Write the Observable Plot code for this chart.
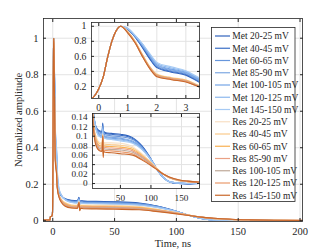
<!DOCTYPE html>
<html><head><meta charset="utf-8">
<script src="https://cdn.jsdelivr.net/npm/d3@7"></script>
<script src="https://cdn.jsdelivr.net/npm/@observablehq/plot@0.6"></script>
<style>
body{margin:0;background:#fff}
#c{position:relative;width:333px;height:250px;font-family:'Liberation Serif','DejaVu Serif',serif;overflow:hidden}
#c svg{position:absolute;left:0;top:0}
#c svg text{font-family:'Liberation Serif','DejaVu Serif',serif}
</style></head><body><div id="c"></div>
<script>
const seriesNames = ["Met 20-25 mV","Met 40-45 mV","Met 60-65 mV","Met 85-90 mV","Met 100-105 mV","Met 120-125 mV","Met 145-150 mV",
  "Res 20-25 mV","Res 40-45 mV","Res 60-65 mV","Res 85-90 mV","Res 100-105 mV","Res 120-125 mV","Res 145-150 mV"];
const seriesColors = ["#2f62bd","#3a6ec6","#6796dc","#7ea8e2","#75a4e6","#8cb8ee","#a6caf4",
  "#f8e0c4","#fbca8a","#f8b052","#eaa084","#bea898","#e99a6c","#c9672a"];

// common rise (t in ns)
const riseTime = [-7.5,-2.3,-2,-1,-0.5,-0.25,-0.1,0,0.15,0.3,0.45,0.6,0.75];
const riseValues = [0.004,0.004,0.02,0.025,0.03,0.04,0.1,0.17,0.32,0.58,0.8,0.94,1.0];
// decay part
const decayTime = [1.0,1.25,1.5,1.75,2.0,2.5,3.0,3.5,4,5,7,10,15,20,21.2,21.8,22.5,25,35,50,70,85,100,110,120,130,145,160,180,202];
const met20  = [0.96,0.86,0.72,0.57,0.45,0.39,0.35,0.25,0.19,0.158,0.135,0.12,0.112,0.11,0.128,0.096,0.11,0.108,0.106,0.104,0.097,0.08,0.052,0.03,0.013,0.004,0.000,-0.001,0.000,0.000];
const met40  = [0.96,0.86,0.73,0.58,0.46,0.40,0.36,0.26,0.195,0.16,0.136,0.119,0.11,0.108,0.126,0.094,0.108,0.106,0.104,0.102,0.095,0.079,0.052,0.03,0.013,0.004,0.000,-0.001,0.000,0.000];
const met60  = [0.965,0.87,0.74,0.60,0.47,0.41,0.37,0.27,0.2,0.162,0.137,0.118,0.107,0.105,0.122,0.092,0.105,0.103,0.101,0.099,0.093,0.077,0.051,0.03,0.013,0.004,0.001,0.000,0.000,0.000];
const met85  = [0.965,0.87,0.75,0.61,0.48,0.42,0.38,0.28,0.21,0.165,0.138,0.117,0.105,0.102,0.12,0.09,0.102,0.1,0.098,0.096,0.09,0.076,0.051,0.03,0.013,0.004,0.001,0.000,0.000,0.000];
const met100 = [0.97,0.875,0.76,0.62,0.49,0.43,0.39,0.29,0.22,0.17,0.139,0.116,0.103,0.1,0.118,0.088,0.1,0.098,0.096,0.094,0.088,0.075,0.05,0.03,0.013,0.004,0.001,0.000,0.000,0.000];
const met120 = [0.97,0.88,0.765,0.63,0.505,0.445,0.40,0.30,0.23,0.175,0.14,0.116,0.101,0.098,0.116,0.086,0.098,0.096,0.094,0.092,0.086,0.073,0.05,0.03,0.013,0.004,0.001,0.000,0.000,0.000];
const met145 = [0.97,0.88,0.77,0.64,0.52,0.46,0.41,0.31,0.24,0.18,0.14,0.115,0.1,0.097,0.115,0.085,0.097,0.095,0.093,0.09,0.085,0.072,0.05,0.03,0.013,0.004,0.001,0.000,0.000,0.000];
const res20  = [0.93,0.80,0.63,0.47,0.37,0.32,0.29,0.21,0.175,0.145,0.118,0.1,0.088,0.086,0.105,0.075,0.087,0.086,0.086,0.085,0.078,0.063,0.045,0.032,0.02,0.012,0.006,0.004,0.002,0.001];
const res40  = [0.93,0.80,0.625,0.465,0.36,0.315,0.285,0.205,0.172,0.142,0.115,0.097,0.085,0.083,0.103,0.072,0.084,0.083,0.082,0.081,0.075,0.061,0.044,0.031,0.02,0.012,0.006,0.004,0.002,0.001];
const res60  = [0.925,0.795,0.62,0.46,0.355,0.31,0.28,0.2,0.17,0.14,0.112,0.093,0.081,0.079,0.102,0.068,0.08,0.079,0.078,0.077,0.072,0.059,0.043,0.031,0.02,0.013,0.007,0.004,0.002,0.001];
const res85  = [0.92,0.79,0.615,0.455,0.35,0.305,0.275,0.2,0.168,0.138,0.109,0.09,0.078,0.076,0.101,0.065,0.077,0.076,0.075,0.074,0.069,0.057,0.042,0.03,0.02,0.013,0.007,0.004,0.002,0.001];
const res100 = [0.92,0.785,0.61,0.45,0.345,0.30,0.27,0.195,0.165,0.135,0.106,0.087,0.075,0.073,0.1,0.062,0.074,0.073,0.072,0.071,0.066,0.055,0.041,0.03,0.02,0.013,0.007,0.005,0.003,0.001];
const res120 = [0.915,0.78,0.605,0.445,0.34,0.295,0.265,0.19,0.162,0.132,0.103,0.084,0.072,0.07,0.1,0.058,0.071,0.07,0.069,0.067,0.063,0.052,0.04,0.03,0.02,0.014,0.008,0.005,0.003,0.002];
const res145 = [0.91,0.78,0.60,0.44,0.33,0.29,0.26,0.19,0.16,0.13,0.1,0.08,0.07,0.068,0.1,0.055,0.068,0.066,0.065,0.063,0.06,0.05,0.038,0.029,0.02,0.014,0.008,0.005,0.003,0.002];
const decaySeries = [met20,met40,met60,met85,met100,met120,met145,res20,res40,res60,res85,res100,res120,res145];

const mainXTicks = [0,50,100,150,200];
const mainYTicks = [0,0.2,0.4,0.6,0.8,1];
const in1XTicks = [0,1,2,3];
const in1YTicks = [0.2,0.4,0.6,0.8,1];
const in2XTicks = [50,100,150];
const in2YTicks = [0,0.02,0.04,0.06,0.08,0.1,0.12,0.14];

const rows = [];
seriesNames.forEach((s, i) => {
  riseTime.forEach((t, j) => rows.push({s, t, v: riseValues[j]}));
  decayTime.forEach((t, j) => rows.push({s, t, v: decaySeries[i][j]}));
});

const FONT = "'Liberation Serif','DejaVu Serif',serif";
const INK = "#262626";
const GRID = "#e3e3e3";
const fmt = d => String(d);

function axes(xt, yt, xlabel, ylabel, extra = {}) {
  return [
    Plot.axisX(xt, {anchor: "bottom", tickSize: -3, tickPadding: 9, tickFormat: fmt, stroke: INK, fill: INK,
      label: xlabel, labelAnchor: "center", labelArrow: "none", labelOffset: extra.xlo ?? 24}),
    Plot.axisX(xt, {anchor: "top", tickSize: -3, tickFormat: () => "", stroke: INK, label: null}),
    Plot.axisY(yt, {anchor: "left", tickSize: -3, tickPadding: 8, tickFormat: fmt, stroke: INK, fill: INK,
      label: ylabel, labelAnchor: "center", labelArrow: "none", labelOffset: extra.ylo ?? 30}),
    Plot.axisY(yt, {anchor: "right", tickSize: -3, tickFormat: () => "", stroke: INK, label: null})
  ];
}

const styleBase = {fontFamily: FONT, fontSize: "10.5px", color: INK, background: "transparent", overflow: "visible"};
const styleInset = {...styleBase, fontSize: "9.8px"};
const styleInset2 = {...styleBase, fontSize: "9.2px"};
const colorOpt = {domain: seriesNames, range: seriesColors};

const main = Plot.plot({
  width: 333, height: 250, marginLeft: 43, marginRight: 31, marginTop: 18, marginBottom: 29,
  style: styleBase,
  x: {domain: [-7.5, 202]},
  y: {domain: [-0.004, 1.108]},
  color: colorOpt,
  marks: [
    Plot.gridX(mainXTicks, {stroke: GRID, strokeOpacity: 1}),
    Plot.gridY(mainYTicks, {stroke: GRID, strokeOpacity: 1}),
    Plot.line(rows, {x: "t", y: "v", z: "s", stroke: "s", strokeWidth: 1.1, curve: "monotone-x", clip: true}),
    ...axes(mainXTicks, mainYTicks, "Time, ns", "Normalized amplitude", {xlo: 25, ylo: 29}),
    Plot.frame({stroke: INK, strokeWidth: 0.8})
  ]
});

const inset1 = Plot.plot({
  width: 333, height: 250, marginLeft: 91, marginRight: 134, marginTop: 22, marginBottom: 152,
  style: styleInset,
  x: {domain: [-0.25, 3.47]},
  y: {domain: [0.04, 1.05]},
  color: colorOpt,
  marks: [
    Plot.frame({fill: "white", stroke: "none"}),
    Plot.gridX(in1XTicks, {stroke: GRID, strokeOpacity: 1}),
    Plot.gridY(in1YTicks, {stroke: GRID, strokeOpacity: 1}),
    Plot.line(rows, {x: "t", y: "v", z: "s", stroke: "s", strokeWidth: 1.1, curve: "monotone-x", clip: true}),
    ...axes(in1XTicks, in1YTicks, null, null),
    Plot.frame({stroke: INK, strokeWidth: 0.8})
  ]
});

const inset2 = Plot.plot({
  width: 333, height: 250, marginLeft: 92, marginRight: 134, marginTop: 113, marginBottom: 62,
  style: styleInset2,
  x: {domain: [4.3, 179.5]},
  y: {domain: [-0.0105, 0.148]},
  color: colorOpt,
  marks: [
    Plot.frame({fill: "white", stroke: "none"}),
    Plot.gridX(in2XTicks, {stroke: GRID, strokeOpacity: 1}),
    Plot.gridY(in2YTicks, {stroke: GRID, strokeOpacity: 1}),
    Plot.line(rows, {x: "t", y: "v", z: "s", stroke: "s", strokeWidth: 1.1, curve: "monotone-x", clip: true}),
    ...axes(in2XTicks, in2YTicks, null, null),
    Plot.frame({stroke: INK, strokeWidth: 0.8})
  ]
});

const c = document.getElementById("c");
c.append(main, inset1, inset2);

// legend
const lg = d3.select(c).append("svg").attr("width", 333).attr("height", 250)
  .style("font-family", FONT).style("font-size", "9.5px");
lg.append("rect").attr("x", 211.5).attr("y", 27.5).attr("width", 83.5).attr("height", 174)
  .attr("fill", "white").attr("stroke", INK).attr("stroke-width", 0.8);
seriesNames.forEach((s, i) => {
  const y = 36 + i * 12.25;
  lg.append("line").attr("x1", 215).attr("x2", 230).attr("y1", y).attr("y2", y)
    .attr("stroke", seriesColors[i]).attr("stroke-width", 1.2);
  lg.append("text").attr("x", 232.3).attr("y", y).attr("dy", "0.35em").attr("fill", INK).text(s);
});
</script></body></html>
